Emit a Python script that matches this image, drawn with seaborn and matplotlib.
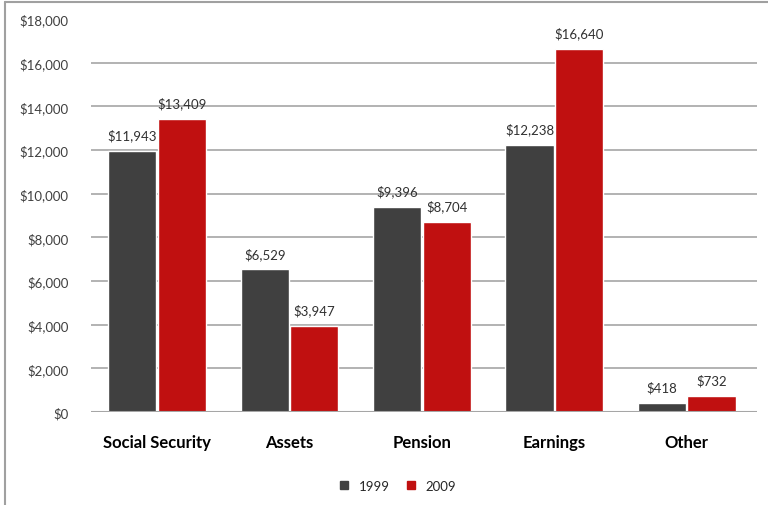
import pandas as pd
import numpy as np
import matplotlib
matplotlib.use('Agg')
import matplotlib.pyplot as plt
import seaborn as sns
from matplotlib.lines import Line2D

# Data
categories = ['Social Security', 'Assets', 'Pension', 'Earnings', 'Other']
values_1999 = [11943, 6529, 9396, 12238, 418]
values_2009 = [13409, 3947, 8704, 16640, 732]
years = ['1999', '2009']

df = pd.DataFrame({
    'Category': categories * 2,
    'Year': [years[0]] * len(categories) + [years[1]] * len(categories),
    'Value': values_1999 + values_2009,
})

sns.set_style('white')
plt.rcParams['font.family'] = ['Lato', 'DejaVu Sans']

colors = {'1999': '#404040', '2009': '#C01010'}

fig = plt.figure(figsize=(7.68, 5.06), dpi=100)
ax = fig.add_axes([0.1185, 0.1838, 0.867, 0.7767])

sns.barplot(data=df, x='Category', y='Value', hue='Year', palette=colors,
            width=0.75, gap=0.03, saturation=1, ax=ax, legend=False)

ax.set_ylim(0, 18000)
ax.set_xlim(-0.5, 4.53)
ax.set_yticks(np.arange(0, 18001, 2000))
ax.set_yticklabels([f'${v:,.0f}' for v in np.arange(0, 18001, 2000)],
                   fontsize=9.5, color='#404040')
ax.set_xticks(range(len(categories)))
ax.set_xticklabels(categories, fontsize=12, fontweight='bold', color='black')
ax.tick_params(axis='x', pad=16, length=0)
ax.tick_params(axis='y', pad=16, length=0)
ax.set_xlabel('')
ax.set_ylabel('')

# gridlines (none at the top edge)
for v in np.arange(2000, 16001, 2000):
    ax.axhline(v, color='#A6A6A6', lw=1.2, zorder=0)
ax.axhline(0, color='#A6A6A6', lw=1.5, zorder=3)
for s in ax.spines.values():
    s.set_visible(False)

# value labels
for container in ax.containers:
    ax.bar_label(container, labels=[f'${v:,.0f}' for v in container.datavalues],
                 padding=7, fontsize=9.5, color='#303030')

# legend
handles = [Line2D([], [], marker='s', ls='', color=colors[y], markersize=6) for y in years]
fig.legend(handles, years, loc='center', bbox_to_anchor=(0.512, 0.038), ncol=2,
           frameon=False, fontsize=9.5, handletextpad=0.1, columnspacing=0.6)

# outer frame (left and top)
fig.add_artist(Line2D([5 / 768, 5 / 768], [0, 1 - 3 / 506], color='#A0A0A0', lw=1.5,
                      transform=fig.transFigure))
fig.add_artist(Line2D([5 / 768, 1], [1 - 3 / 506, 1 - 3 / 506], color='#A0A0A0', lw=1.5,
                      transform=fig.transFigure))

fig.savefig('out.png', dpi=100)
